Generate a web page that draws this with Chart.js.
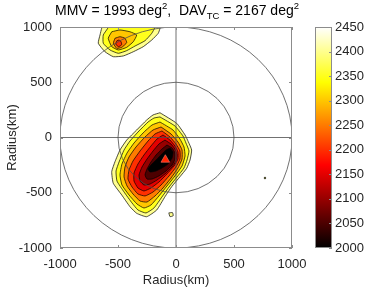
<!DOCTYPE html>
<html>
<head>
<meta charset="utf-8">
<script src="https://cdn.jsdelivr.net/npm/chart.js@4/dist/chart.umd.min.js"></script>
<style>
html, body { margin: 0; padding: 0; background: #fff; }
#wrap { position: relative; width: 368px; height: 288px; overflow: hidden; font-family: 'Liberation Sans', Arial, sans-serif; }
canvas { position: absolute; left: 0; top: 0; }
#title { position: absolute; left: 0; width: 354px; top: 2px; text-align: center; font-size: 14px; line-height: 16px; color: #000; white-space: pre; }
#title sup, #title sub { font-size: 9.5px; line-height: 0; }
</style>
</head>
<body>
<div id="wrap">
  <canvas id="fieldChart" width="368" height="288"></canvas>
  <canvas id="barChart" width="368" height="288"></canvas>
  <div id="title">MMV = 1993 deg<sup>2</sup>,  DAV<sub>TC</sub> = 2167 deg<sup>2</sup></div>
</div>
<script>
const axisTicks = [-1000, -500, 0, 500, 1000];
const rangeRings = [500, 1000];
const cbarTicks = [2000, 2050, 2100, 2150, 2200, 2250, 2300, 2350, 2400, 2450];
const cMin = 2000;
const cMax = 2450;
const step = 50;

// contour outlines (km), value inside each outline is below its level
const main2450 = [[-138,224],[6,128],[78,23],[106,-38],[135,-113],[121,-204],[92,-279],[34,-355],[-37,-445],[-95,-536],[-166,-656],[-253,-717],[-339,-686],[-397,-626],[-468,-520],[-541,-414],[-554,-309],[-526,-219],[-483,-113],[-425,-23],[-339,68],[-253,158],[-198,204]];
const main2400 = [[-138,186],[-9,104],[60,14],[86,-50],[112,-122],[95,-204],[69,-276],[9,-357],[-60,-448],[-121,-538],[-190,-638],[-259,-683],[-328,-656],[-379,-593],[-448,-493],[-509,-394],[-517,-303],[-491,-222],[-448,-113],[-397,-32],[-319,59],[-241,140],[-190,176]];
const main2350 = [[-138,140],[-26,68],[34,-14],[69,-86],[78,-167],[52,-258],[-9,-348],[-78,-439],[-147,-529],[-216,-611],[-276,-638],[-336,-602],[-405,-520],[-466,-430],[-483,-339],[-466,-240],[-422,-140],[-362,-50],[-284,41],[-207,113]];
const main2300 = [[-129,95],[-43,32],[17,-41],[52,-113],[52,-195],[17,-276],[-43,-367],[-112,-457],[-181,-529],[-250,-584],[-310,-575],[-371,-511],[-422,-439],[-448,-357],[-440,-267],[-405,-176],[-345,-86],[-267,5],[-198,68]];
const main2250 = [[-121,59],[-52,5],[0,-59],[34,-122],[34,-195],[0,-267],[-60,-348],[-129,-430],[-198,-493],[-267,-529],[-328,-511],[-379,-448],[-414,-376],[-405,-294],[-371,-213],[-310,-122],[-241,-32],[-181,32]];
const main2200 = [[-112,23],[-52,-23],[-9,-77],[17,-131],[17,-195],[-17,-258],[-78,-330],[-147,-403],[-216,-457],[-276,-484],[-328,-457],[-362,-394],[-362,-321],[-328,-240],[-276,-158],[-216,-77],[-164,-14]];
const main2150 = [[-95,-23],[-43,-59],[-9,-104],[9,-158],[0,-213],[-34,-267],[-95,-330],[-164,-385],[-224,-421],[-276,-430],[-310,-394],[-319,-339],[-293,-267],[-250,-195],[-198,-122],[-147,-59]];
const main2100 = [[-78,-68],[-34,-95],[-9,-140],[-9,-195],[-34,-249],[-86,-303],[-147,-348],[-207,-376],[-250,-376],[-267,-339],[-250,-285],[-216,-222],[-172,-158],[-121,-104]];
const main2050 = [[-52,-95],[-26,-131],[-34,-186],[-69,-240],[-121,-276],[-172,-303],[-224,-312],[-241,-285],[-216,-249],[-172,-204],[-121,-149],[-86,-113]];
const speck2450 = [[-62,-682],[-30,-680],[-24,-708],[-52,-716]];

const north2450 = [[-600,1060],[-640,990],[-655,928],[-670,853],[-612,776],[-540,731],[-454,738],[-368,776],[-282,822],[-209,882],[-153,943],[-138,988],[-135,1060]];
const north2400 = [[-590,1060],[-584,997],[-627,928],[-627,853],[-569,792],[-497,762],[-425,786],[-353,828],[-267,876],[-209,943],[-181,997],[-175,1060]];
const north2350 = [[-554,957],[-584,898],[-554,822],[-497,792],[-425,816],[-368,867],[-339,928],[-397,957],[-483,973]];
const north2300 = [[-526,898],[-540,853],[-511,807],[-468,816],[-425,858],[-440,898],[-483,912]];
const north2250 = [[-510,875],[-520,845],[-495,822],[-468,840],[-474,868],[-492,882]];

const tcCenter = [-92, -201];
const strayPoint = [767, -366];

const mainLevels = [2450, 2400, 2350, 2300, 2250, 2200, 2150, 2100, 2050];
const mainShapes = [main2450, main2400, main2350, main2300, main2250, main2200, main2150, main2100, main2050];
const northLevels = [2450, 2400, 2350, 2300, 2250];
const northShapes = [north2450, north2400, north2350, north2300, north2250];

Chart.defaults.font.family = "'Liberation Sans', Arial, sans-serif";
Chart.defaults.font.size = 13;
Chart.defaults.color = '#262626';

function hot(v) {
    const t = (v - cMin) / (cMax - cMin);
    const r = Math.min(1, t / 0.375);
    const g = Math.max(0, Math.min(1, (t - 0.375) / 0.375));
    const b = Math.max(0, Math.min(1, (t - 0.75) / 0.25));
    return 'rgb(' + Math.round(r * 255) + ',' + Math.round(g * 255) + ',' + Math.round(b * 255) + ')';
}

function shapeSet(pts, level, order) {
    return {
        data: pts.concat([pts[0]]).map(p => ({ x: p[0], y: p[1] })),
        showLine: true,
        fill: 'shape',
        tension: 0.15,
        backgroundColor: hot(level - step),
        borderColor: '#000',
        borderWidth: 0.7,
        pointRadius: 0,
        order: order
    };
}

var datasets = [];
mainShapes.forEach((s, i) => datasets.push(shapeSet(s, mainLevels[i], 100 - i)));
northShapes.forEach((s, i) => datasets.push(shapeSet(s, northLevels[i], 100 - i)));
datasets.push(shapeSet(speck2450, 2450, 100));
datasets.push({
    data: [{ x: tcCenter[0], y: tcCenter[1] }],
    pointStyle: 'triangle', pointRadius: 5,
    backgroundColor: '#ff2200', borderColor: '#ff7a6a', borderWidth: 0.6,
    order: 0
});
datasets.push({
    data: [{ x: strayPoint[0], y: strayPoint[1] }],
    pointRadius: 1.2, backgroundColor: '#4d4d33', borderWidth: 0,
    order: 0
});

// range rings and centre cross
const rings = {
    id: 'rings',
    afterDatasetsDraw(chart) {
        const { ctx, chartArea: a, scales: { x, y } } = chart;
        const cx = x.getPixelForValue(0), cy = y.getPixelForValue(0);
        ctx.save();
        ctx.beginPath();
        ctx.rect(a.left, a.top, a.width, a.height);
        ctx.clip();
        ctx.strokeStyle = '#4d4d4d';
        ctx.lineWidth = 0.8;
        ctx.beginPath();
        ctx.moveTo(cx, a.top); ctx.lineTo(cx, a.bottom);
        ctx.moveTo(a.left, cy); ctx.lineTo(a.right, cy);
        ctx.stroke();
        rangeRings.forEach(r => {
            const rx = x.getPixelForValue(r) - cx;
            const ry = cy - y.getPixelForValue(r);
            ctx.beginPath();
            ctx.ellipse(cx, cy, rx, ry, 0, 0, Math.PI * 2);
            ctx.stroke();
        });
        ctx.restore();
    }
};

// box with inward ticks
const frame = {
    id: 'frame',
    afterDraw(chart, args, opts) {
        const { ctx, chartArea: a } = chart;
        ctx.save();
        ctx.strokeStyle = '#8c8c8c';
        ctx.lineWidth = 1;
        ctx.strokeRect(a.left + 0.5, a.top + 0.5, a.width - 1, a.height - 1);
        ctx.beginPath();
        (opts.sides || []).forEach(side => {
            const sc = chart.scales[side === 'top' || side === 'bottom' ? 'x' : 'y'];
            sc.ticks.forEach(t => {
                const p = Math.round(sc.getPixelForValue(t.value)) + 0.5;
                if (side === 'bottom') { ctx.moveTo(p, a.bottom); ctx.lineTo(p, a.bottom - 3); }
                if (side === 'top') { ctx.moveTo(p, a.top); ctx.lineTo(p, a.top + 3); }
                if (side === 'left') { ctx.moveTo(a.left, p); ctx.lineTo(a.left + 3, p); }
                if (side === 'right') { ctx.moveTo(a.right, p); ctx.lineTo(a.right - 3, p); }
            });
        });
        ctx.stroke();
        ctx.restore();
    }
};

const plainLabel = v => String(v);

var fieldChart = new Chart(document.getElementById('fieldChart'), {
    type: 'scatter',
    data: { datasets: datasets },
    options: {
        responsive: false,
        animation: false,
        layout: { padding: { left: 0, top: 27, right: 76, bottom: 0 } },
        plugins: {
            legend: { display: false },
            tooltip: { enabled: false },
            frame: { sides: ['bottom', 'top', 'left', 'right'] }
        },
        scales: {
            x: {
                min: -1000, max: 1000,
                afterBuildTicks: s => { s.ticks = axisTicks.map(v => ({ value: v })); },
                afterFit: s => { s.height = 40; },
                ticks: { padding: 9, maxRotation: 0, callback: plainLabel },
                grid: { display: false, drawTicks: false },
                border: { display: false },
                title: { display: true, text: 'Radius(km)', padding: { top: 0, bottom: 0 } }
            },
            y: {
                min: -1000, max: 1000,
                afterBuildTicks: s => { s.ticks = axisTicks.map(v => ({ value: v })); },
                afterFit: s => { s.width = 60; },
                ticks: { padding: 8, callback: plainLabel },
                grid: { display: false, drawTicks: false },
                border: { display: false },
                title: { display: true, text: 'Radius(km)', padding: { top: 5, bottom: 0 } }
            }
        }
    },
    plugins: [rings, frame]
});

var barChart = new Chart(document.getElementById('barChart'), {
    type: 'bar',
    data: {
        labels: [''],
        datasets: [{
            data: [[cMin, cMax]],
            barPercentage: 1,
            categoryPercentage: 1,
            borderWidth: 0,
            backgroundColor: function (context) {
                const area = context.chart.chartArea;
                if (!area) return null;
                const g = context.chart.ctx.createLinearGradient(0, area.bottom, 0, area.top);
                g.addColorStop(0, '#000000');
                g.addColorStop(0.375, '#ff0000');
                g.addColorStop(0.75, '#ffff00');
                g.addColorStop(1, '#ffffff');
                return g;
            }
        }]
    },
    options: {
        responsive: false,
        animation: false,
        layout: { padding: { left: 315, top: 27, right: 0, bottom: 40 } },
        plugins: {
            legend: { display: false },
            tooltip: { enabled: false },
            frame: { sides: ['right'] }
        },
        scales: {
            x: { display: false },
            y: {
                position: 'right',
                min: cMin, max: cMax,
                afterBuildTicks: s => { s.ticks = cbarTicks.map(v => ({ value: v })); },
                afterFit: s => { s.width = 36; },
                ticks: { padding: 3, callback: plainLabel },
                grid: { display: false, drawTicks: false },
                border: { display: false }
            }
        }
    },
    plugins: [frame]
});
</script>
</body>
</html>
